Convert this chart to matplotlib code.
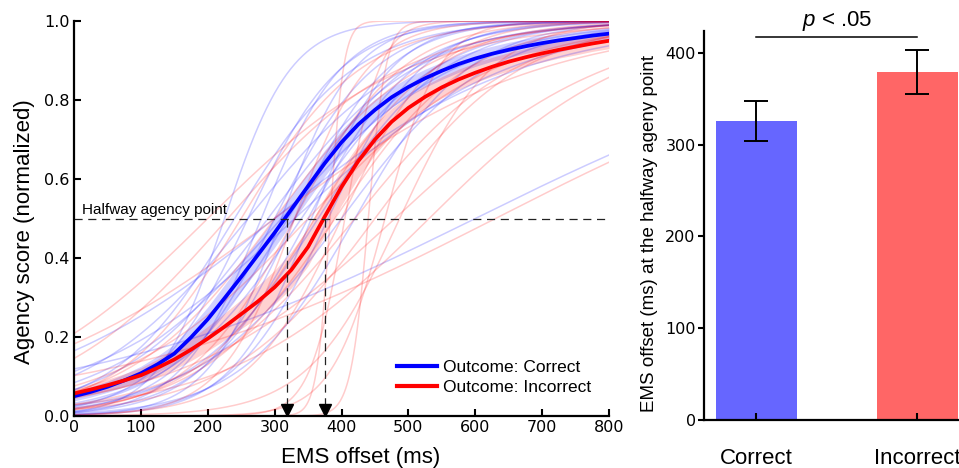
import numpy as np
import matplotlib.pyplot as plt
from matplotlib.lines import Line2D

plt.rcParams['mathtext.fontset'] = 'custom'
plt.rcParams['mathtext.it'] = 'Liberation Sans:italic'
plt.rcParams['mathtext.rm'] = 'Liberation Sans'

LAB = 'Liberation Sans'
TCK = 'DejaVu Sans'

# ---- individual psychometric fits (midpoint ms, spread ms) ----
blue_mid = [225, 240, 260, 260, 280, 290, 300, 300, 310, 310, 320, 330, 330,
            340, 350, 355, 365, 380, 400, 420, 600]
blue_spread = [50, 90, 70, 120, 60, 110, 75, 185, 55, 130, 90, 70, 160,
               100, 80, 60, 95, 70, 110, 85, 300]
red_mid = [383, 440, 405, 200, 230, 250, 300, 300, 330, 330, 350, 360, 390,
           400, 420, 450, 465, 480, 487, 531, 630]
red_spread = [10, 13, 26, 150, 130, 90, 110, 200, 80, 55, 140, 90, 100,
              70, 120, 110, 40, 160, 69, 150, 290]

offset_ms = [0, 25, 50, 75, 100, 125, 150, 175, 200, 225, 250, 275, 300, 325,
             350, 375, 400, 425, 450, 475, 500, 525, 550, 575, 600, 625, 650,
             675, 700, 725, 750, 775, 800]
blue_mean = [0.050, 0.061, 0.074, 0.090, 0.108, 0.131, 0.158, 0.199, 0.245,
             0.298, 0.352, 0.408, 0.464, 0.523, 0.582, 0.640, 0.693, 0.738,
             0.775, 0.807, 0.833, 0.855, 0.874, 0.891, 0.905, 0.917, 0.927,
             0.936, 0.944, 0.951, 0.957, 0.963, 0.968]
red_mean = [0.057, 0.067, 0.078, 0.090, 0.103, 0.122, 0.143, 0.168, 0.196,
            0.226, 0.258, 0.290, 0.326, 0.370, 0.428, 0.505, 0.580, 0.645,
            0.700, 0.745, 0.780, 0.808, 0.832, 0.852, 0.869, 0.884, 0.897,
            0.908, 0.918, 0.927, 0.935, 0.943, 0.950]
blue_ci = [0.012, 0.013, 0.014, 0.016, 0.018, 0.021, 0.024, 0.028, 0.031,
           0.034, 0.036, 0.037, 0.037, 0.036, 0.035, 0.033, 0.031, 0.029,
           0.027, 0.025, 0.024, 0.023, 0.022, 0.021, 0.020, 0.019, 0.019,
           0.018, 0.018, 0.017, 0.017, 0.017, 0.016]
red_ci = [0.013, 0.014, 0.015, 0.017, 0.019, 0.022, 0.025, 0.028, 0.031,
          0.034, 0.037, 0.040, 0.043, 0.046, 0.048, 0.048, 0.046, 0.042,
          0.038, 0.034, 0.031, 0.029, 0.027, 0.026, 0.025, 0.024, 0.023,
          0.022, 0.022, 0.021, 0.021, 0.020, 0.020]
halfway_x = [318, 375]

# ---- bar panel ----
conditions = ['Correct', 'Incorrect']
halfway_mean = [326, 379]
halfway_err = [22, 24]
bar_colors = ['#6666ff', '#ff6666']

fig = plt.figure(figsize=(9.59, 4.68), dpi=100)
ax = fig.add_axes([74/959, 52/468, 535/959, 395/468])

xs = np.linspace(0, 800, 401)
for m, s in zip(blue_mid, blue_spread):
    ax.plot(xs, 1/(1+np.exp(-(xs-m)/s)), color='blue', alpha=0.2, lw=1.1)
for m, s in zip(red_mid, red_spread):
    ax.plot(xs, 1/(1+np.exp(-(xs-m)/s)), color='red', alpha=0.2, lw=1.1)

bm = np.array(blue_mean); rm = np.array(red_mean)
ax.fill_between(offset_ms, bm-np.array(blue_ci), bm+np.array(blue_ci),
                color='blue', alpha=0.18, lw=0)
ax.fill_between(offset_ms, rm-np.array(red_ci), rm+np.array(red_ci),
                color='red', alpha=0.18, lw=0)
ax.plot(offset_ms, blue_mean, color='blue', lw=2.7, solid_joinstyle='round')
ax.plot(offset_ms, red_mean, color='red', lw=2.7, solid_joinstyle='round')

ax.plot([0, 800], [0.5, 0.5], color='#222222', lw=0.9, dashes=(6.5, 4.5))
ax.text(12, 0.512, 'Halfway agency point', fontsize=11, family=LAB)
for hx in halfway_x:
    ax.plot([hx, hx], [0.5, 0.02], color='#222222', lw=0.9, dashes=(6.5, 4.5))
    ax.plot([hx], [0.016], marker='v', ms=9, color='black', clip_on=False)

ax.set_xlim(0, 800)
ax.set_ylim(0, 1)
ax.set_xticks(range(0, 801, 100))
ax.set_yticks([0, 0.2, 0.4, 0.6, 0.8, 1.0])
ax.set_yticklabels(['0.0', '0.2', '0.4', '0.6', '0.8', '1.0'])
ax.tick_params(direction='in', length=5, width=1.5, labelsize=11.5, pad=3)
for lab in ax.get_xticklabels() + ax.get_yticklabels():
    lab.set_family(TCK)
for sp in ['top', 'right']:
    ax.spines[sp].set_visible(False)
for sp in ['left', 'bottom']:
    ax.spines[sp].set_linewidth(1.6)
ax.set_xlabel('EMS offset (ms)', fontsize=16, family=LAB)
ax.xaxis.set_label_coords(0.536, -0.078)
ax.set_ylabel('Agency score (normalized)', fontsize=16, family=LAB)
ax.yaxis.set_label_coords(-0.072, 0.468)

handles = [Line2D([], [], color='blue', lw=3), Line2D([], [], color='red', lw=3)]
ax.legend(handles, ['Outcome: Correct', 'Outcome: Incorrect'], loc='lower left',
          bbox_to_anchor=(0.59, 0.035), frameon=False, handlelength=2.3,
          handletextpad=0.35, labelspacing=0.3, borderaxespad=0,
          prop={'family': LAB, 'size': 12.5})

# right panel, runs off the right edge as in the original
ax2 = fig.add_axes([704/959, 48/468, 265.6/959, 389/468])
xpos = np.arange(len(conditions))
ax2.bar(xpos, halfway_mean, width=0.5, color=bar_colors)
ax2.errorbar(xpos, halfway_mean, yerr=halfway_err, fmt='none', ecolor='black',
             elinewidth=1.4, capsize=8.5, capthick=1.4)
ax2.set_xlim(-0.325, 1.325)
ax2.set_ylim(0, 423.7)
ax2.set_xticks(xpos)
ax2.set_xticklabels(conditions, fontsize=16, family=LAB)
ax2.set_yticks([0, 100, 200, 300, 400])
ax2.tick_params(axis='x', direction='in', length=5, width=1.5, pad=20)
ax2.tick_params(axis='y', direction='out', length=4, width=1.5, pad=2, labelsize=11.5)
for sp in ['top', 'right']:
    ax2.spines[sp].set_visible(False)
for sp in ['left', 'bottom']:
    ax2.spines[sp].set_linewidth(1.6)
ax2.set_ylabel('EMS offset (ms) at the halfway ageny point', fontsize=13.5, family=LAB)
ax2.yaxis.set_label_coords(-0.172, 0.48)

sig_y = 417.5
ax2.plot([0, 1], [sig_y, sig_y], color='black', lw=1.1, clip_on=False)
ax2.annotate(r'$\mathit{p}$ < .05', xy=(0.5, sig_y), xytext=(0, 3),
             textcoords='offset points', ha='center', va='bottom',
             fontsize=16, family=LAB, annotation_clip=False)

fig.savefig('out.png', dpi=100)
